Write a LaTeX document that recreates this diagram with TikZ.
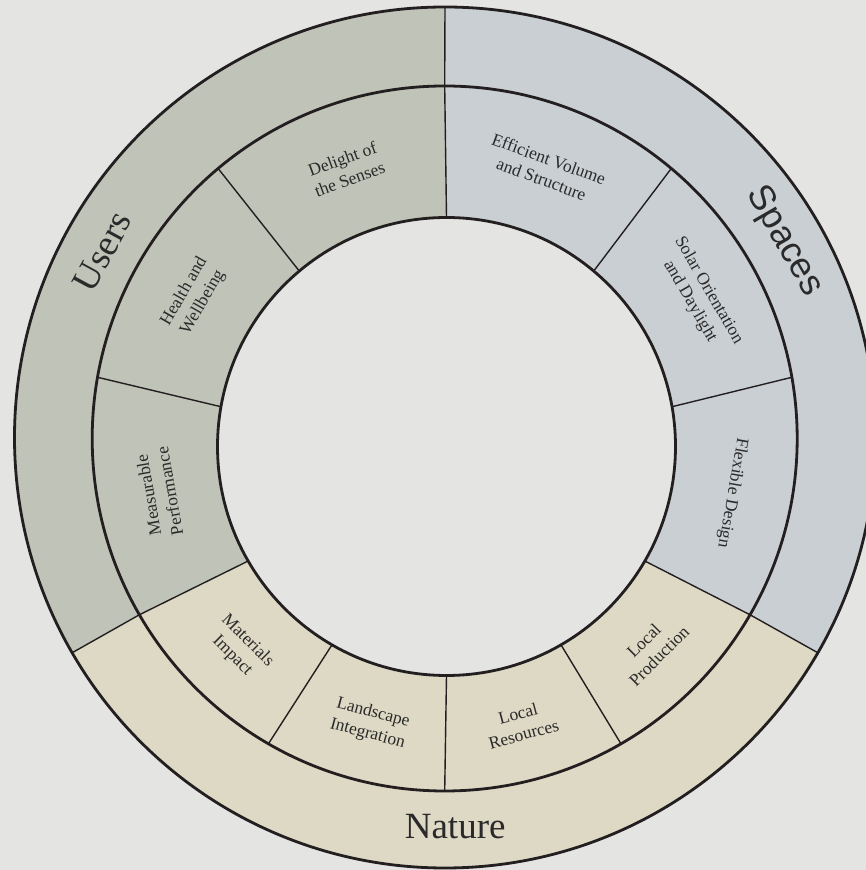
\documentclass[tikz,border=0pt]{standalone}
\usepackage{fontspec}
\setmainfont{Liberation Serif}
\newfontfamily\spacesfont{Liberation Sans}
\usetikzlibrary{calc}
\definecolor{bg}{HTML}{E4E4E2}
\definecolor{usersc}{HTML}{C0C3B8}
\definecolor{spacesc}{HTML}{CACFD3}
\definecolor{naturec}{HTML}{DDD9C4}
\definecolor{ink}{HTML}{231F20}
\definecolor{txt}{HTML}{2A2A2A}
\begin{document}
\begin{tikzpicture}[x=1pt,y=1pt,
  ring/.style={draw=ink,line width=2.8pt},
  divider/.style={draw=ink,line width=1.4pt},
  seglabel/.style={text=txt,font=\fontsize{17.5}{21.5}\selectfont,align=center,inner sep=0pt},
  biglabel/.style={text=txt,font=\fontsize{37}{40}\selectfont,inner sep=0pt}]
\fill[bg] (0,0) rectangle (866,870);
\useasboundingbox (0,0) rectangle (866,870);
\coordinate (O1) at (445,432.5);
\coordinate (O2) at (444.7,431.5);
\coordinate (O3) at (446.5,423.5);
\coordinate (Oc) at (445.6,427.5);
% outer sectors, bounded by the dividers
\fill[usersc] (O3) -- ($(O3)+(90:229)$) -- ($(O2)+(90:352.5)$) -- ($(O1)+(90:430.5)$)
  arc[start angle=90,end angle=210,radius=430.5]
  -- ($(O2)+(210:352.5)$) -- ($(O3)+(210:229)$) -- cycle;
\fill[naturec] (O3) -- ($(O3)+(210:229)$) -- ($(O2)+(210:352.5)$) -- ($(O1)+(210:430.5)$)
  arc[start angle=210,end angle=330,radius=430.5]
  -- ($(O2)+(330:352.5)$) -- ($(O3)+(330:229)$) -- cycle;
\fill[spacesc] (O3) -- ($(O3)+(-30:229)$) -- ($(O2)+(-30:352.5)$) -- ($(O1)+(-30:430.5)$)
  arc[start angle=-30,end angle=90,radius=430.5]
  -- ($(O2)+(90:352.5)$) -- ($(O3)+(90:229)$) -- cycle;
% inner disc
\fill[bg] (O3) circle[radius=229];
% outer dividers
\foreach \a in {90,210,330}
  \draw[divider] ($(O2)+(\a:352.5)$) -- ($(O1)+(\a:430.5)$);
% inner dividers
\foreach \a in {90,130,170,210,240,270,300,330,50,10}
  \draw[divider] ($(O3)+(\a:229)$) -- ($(O2)+(\a:352.5)$);
% rings
\draw[ring] (O1) circle[radius=430.5];
\draw[ring] (O2) circle[radius=352.5];
\draw[ring] (O3) circle[radius=229];
% big labels
\node[biglabel,rotate=61.5] (users) at ($(O1)+(151.5:390)$) {Users};
\node[biglabel,font=\spacesfont\fontsize{36}{40}\selectfont,rotate=-60] (spaces) at ($(O1)+(30:392)$) {Spaces};
\node[biglabel] (nature) at ($(O1)+(271.5:389)$) {Nature};
% segment labels
\node[seglabel,rotate=20] (delight) at ($(Oc)+(110:291)$) {Delight of\\the Senses};
\node[seglabel,rotate=60] (health) at ($(Oc)+(150:291)$) {Health and\\Wellbeing};
\node[seglabel,rotate=100] (measurable) at ($(Oc)+(190:291)$) {Measurable\\Performance};
\node[seglabel,rotate=-20] (efficient) at ($(Oc)+(70:291)$) {Efficient Volume\\and Structure};
\node[seglabel,rotate=-60] (solar) at ($(Oc)+(30:293)$) {Solar Orientation\\and Daylight};
\node[seglabel,rotate=-100] (flexible) at ($(Oc)+(-10:291)$) {Flexible Design};
\node[seglabel,rotate=-45] (materials) at ($(Oc)+(225:291)$) {Materials\\Impact};
\node[seglabel,rotate=-15] (landscape) at ($(Oc)+(255:291)$) {Landscape\\Integration};
\node[seglabel,rotate=15] (resources) at ($(Oc)+(285:291)$) {Local\\Resources};
\node[seglabel,rotate=45] (production) at ($(Oc)+(315:291)$) {Local\\Production};
\end{tikzpicture}
\end{document}
